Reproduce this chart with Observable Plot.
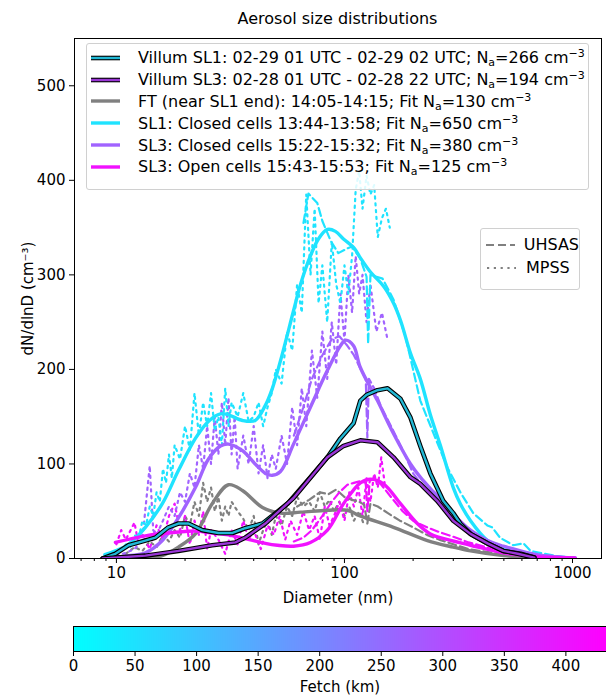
<!DOCTYPE html>
<html><head><meta charset="utf-8">
<script src="https://cdn.jsdelivr.net/npm/d3@7"></script>
<script src="https://cdn.jsdelivr.net/npm/@observablehq/plot@0.6"></script>
<style>
body{margin:0;width:606px;height:698px;overflow:hidden;font-family:"DejaVu Sans",sans-serif;background:#fff;position:relative;color:#000}
#title{position:absolute;left:74px;width:527px;top:9px;text-align:center;font-size:16px;line-height:20px}
#main{position:absolute;left:0;top:30px}
#cbar{position:absolute;left:0;top:612px}
.leg{position:absolute;border:1px solid #d0d0d0;border-radius:3px;background:rgba(255,255,255,0.85);box-sizing:border-box;font-size:16px}
.row{display:flex;align-items:center;height:21.8px;white-space:nowrap}
.row svg{flex:none}
sub{font-size:11px;vertical-align:-3px;line-height:0}
sup{font-size:11px;vertical-align:6px;line-height:0}
</style></head><body>
<div id="title">Aerosol size distributions</div>
<div id="main"></div>
<div id="cbar"></div>
<div class="leg" id="leg1" style="left:86px;top:43px;width:503px;height:147px;padding-top:3px"></div>
<div class="leg" id="leg2" style="left:480px;top:228px;width:100px;height:62px;padding-top:4px"></div>
<script>
// ---------- Data (diameter nm, dN/dlnD cm^-3) ----------
// Fits
const sl1FitD = [8.9,9.9,11.3,13.4,15.9,18.7,22.2,25.3,28.6,31,35.7,40.6,45,48.3,52.4,59.8,64.2,70.9,76.9,84.2,91.3,99,109.6,117.4,130,148.4,164.2,176,194.8,215,238,263,300,322,357,424,497,592,700,882,1027];
const sl1FitV = [4,8,15,33,58,93,127,145,153,152,146,146,162,180,209,262,290,320,338,348,346,338,329,318,303,288,270,252,217,190,152,120,75,58,40,19,10,5,3,1,0.5];
const sl3cFitD = [8.9,11.3,13.4,15.9,18.7,22.2,25.3,28.6,31,35.7,40.6,45,48.3,52.4,59.8,70.9,84.2,96,101.1,109.6,117.4,139.5,164.2,194.8,215,238,263,300,357,424,497,592,700,824,1027];
const sl3cFitV = [0,3,6,19,43,75,105,119,121,114,100,90,88,92,121,160,199,225,231,225,202,167,132,100,86,74,63,47,30,19,13,8,4,2,0.5];
const ftFitD = [9.9,13.4,15.9,18.7,22.2,26.3,31,35.7,43.7,52.4,64.2,84.2,103,117,164,231,300,357,497,700,1000];
const ftFitV = [0,1,3,12,26,58,78,72,54,48,49,51,51,45,33,19,12,8,3,1,0.3];
const sl3oFitD = [9.9,13.4,18.7,22.2,26.3,31,36.7,45,50.8,59.8,70.9,84.2,99,117.4,130,148.4,176,208.6,238,263,357,497,700,882,1027];
const sl3oFitV = [17,24,28,29,27,25,21,16,14,13,17,30,58,80,84,79,58,37,26,22,14,6,2,1,0.5];
// Villum
const villum1D = [8.7,9.9,11.3,13.4,14.8,16.9,18.7,20.7,23.8,28,32.3,36.7,43.7,56.3,70.9,84.2,96,109.6,117.4,125,139.5,154.5,176,194.8,215,238,271,300,322,357,424,497,592,680];
const villum1V = [0,5,14,19,22,33,37,37,30,27,27,32,37,58,86,107,127,143,167,173,178,180,169,149,119,90,61,48,37,26,16,8,5,1];
const villum3D = [8.7,13.4,18.7,26.3,33.3,36.7,45,59.8,84.2,99,117.4,139.5,164.2,194.8,215,255,300,357,424,497,575,680];
const villum3V = [0,3,8,14,17,22,37,64,107,119,125,123,107,86,79,61,40,26,16,8,5,1];
// UHSAS (dashed)
const sl1UhD = [66.1,69.5,76,80,87,94,103,108,117,125,127,130,147,164,185,215,246,283,324,367,423,444,481,550,610,655,830,980];
const sl1UhV = [355,386,376,357,336,323,328,330,318,298,227,300,296,274,235,167,132,96,69,48,35,33,22,14,16,8,3,1];
const sl3cUhD = [60,66,72,80,88,95,103,110,118,124,126,128,135,145,160,180,200,225,250,280,320,360,420,480,550,630,700,800,950];
const sl3cUhV = [130,160,190,215,232,235,225,215,200,190,128,190,180,160,140,115,90,74,62,50,37,28,19,13,9,6,4,2,1];
const ftUhD = [62,70,78,85,92,100,108,116,122,126,130,140,155,175,200,230,260,300,350,420,500,600,750];
const ftUhV = [55,62,70,68,73,65,62,60,57,37,58,55,48,40,33,25,20,15,10,7,4,2,1];
const sl3oUhD = [60,66,72,80,88,95,103,110,118,124,126,129,135,145,160,180,200,230,260,300,350,420,500,600,750,950];
const sl3oUhV = [18,22,30,45,60,70,78,80,82,80,50,82,85,78,65,50,40,33,28,23,17,12,7,4,2,1];
// MPSS (dotted)
const sl1MpD = [10.5,11,11.5,12,12.5,13,13.5,14,14.5,15,15.5,16,16.5,17,17.5,18,19,20,21,22,23,24,25,26,27,28,29,30,31,32,34,36,38,40,42,44,46,48,50,53,56,59,62,65,68,71,74,77,80,84,88,92,96,100,104,108,112,116,120,125,130,135,140,146,152,158];
const sl1MpV = [8,15,12,25,20,40,35,55,45,70,60,95,80,110,85,120,105,140,115,175,130,165,140,175,135,150,120,180,140,165,150,175,145,150,165,140,160,175,200,185,240,220,290,260,385,300,370,270,310,250,335,290,270,310,280,320,390,410,370,405,385,395,340,360,370,350];
const sl3cMpD = [10,11,12,13,13.5,14,14.5,15,16,17,18,19,20,21,22,23,24,25,26,27,28,29,30,31,32,33,34,36,38,40,42,44,46,48,50,53,56,59,62,65,68,72,76,80,84,88,92,96,100,104,108,112,116,120,125,130,138,146,155];
const sl3cMpV = [3,6,10,20,60,98,30,25,40,55,45,70,60,90,75,120,95,140,100,150,110,165,120,170,110,150,95,130,100,140,90,120,85,110,95,130,100,160,120,180,140,220,170,240,190,250,205,280,230,300,260,320,280,300,250,290,240,260,230];
const ftMpD = [11,12,13,14,15,16,17,18,19,20,21,22,23,24,25,26,27,28,29,30,31,32,34,36,38,40,42,44,46,48,50,53,56,59,62,66,70,74,78,82,86,90,95,100,105,110,116,122];
const ftMpV = [5,12,8,18,12,25,18,30,22,45,35,60,45,80,60,75,50,65,40,55,45,60,50,42,30,45,15,30,40,25,45,35,55,45,65,55,60,50,70,55,62,50,60,45,55,40,50,35];
const sl3oMpD = [10,10.5,11,12,12.5,13,14,15,16,17,18,19,20,21,22,23,24,25,26,28,30,32,34,36,38,40,43,46,49,52,55,58,62,66,70,74,78,82,86,90,95,100,105,110,115,120,125,130,135,140,145,150];
const sl3oMpV = [15,30,20,38,15,25,10,35,20,45,58,30,45,15,40,25,50,10,30,20,5,30,15,40,20,30,10,35,25,45,20,40,25,50,30,45,20,55,35,45,60,40,70,55,75,45,85,60,90,75,107,80];
// Ticks & colorbar
const xMajorTicks = [10,100,1000];
const xMinorTicks = [7,8,9,20,30,40,50,60,70,80,90,200,300,400,500,600,700,800,900];
const yTicks = [0,100,200,300,400,500];
const fetchTicks = [0,50,100,150,200,250,300,350,400];
const fetchMax = 433;
// Colours
const cSL1 = "#1fe3ff", cSL3c = "#a163ff", cSL3o = "#f112ff", cFT = "#808080";
const cV1 = "#22b8d4", cV3 = "#9a36d6";

const rows = (d, v) => d.map((x, i) => ({D: x, v: v[i]}));
const fit = (d, v, c) => Plot.line(rows(d, v), {x: "D", y: "v", stroke: c, strokeWidth: 3.4, curve: "catmull-rom", clip: true});
const uh = (d, v, c) => Plot.line(rows(d, v), {x: "D", y: "v", stroke: c, strokeWidth: 2.2, strokeDasharray: "8,4", clip: true});
const mp = (d, v, c) => Plot.line(rows(d, v), {x: "D", y: "v", stroke: c, strokeWidth: 2.2, strokeDasharray: "2.2,4.6", clip: true});
const vil = (d, v, c) => [
  Plot.line(rows(d, v), {x: "D", y: "v", stroke: "black", strokeWidth: 4.6, clip: true}),
  Plot.line(rows(d, v), {x: "D", y: "v", stroke: c, strokeWidth: 2.4, clip: true})
];

const main = Plot.plot({
  width: 606, height: 582, marginTop: 8, marginBottom: 54, marginLeft: 74, marginRight: 5,
  style: {fontFamily: "DejaVu Sans, sans-serif", fontSize: "15px", color: "black", background: "white", overflow: "visible"},
  x: {type: "log", domain: [6.55, 1340]},
  y: {domain: [0, 550]},
  marks: [
    mp(ftMpD, ftMpV, cFT), mp(sl3oMpD, sl3oMpV, cSL3o), mp(sl3cMpD, sl3cMpV, cSL3c), mp(sl1MpD, sl1MpV, cSL1),
    uh(ftUhD, ftUhV, cFT), uh(sl3oUhD, sl3oUhV, cSL3o), uh(sl3cUhD, sl3cUhV, cSL3c), uh(sl1UhD, sl1UhV, cSL1),
    fit(ftFitD, ftFitV, cFT), fit(sl1FitD, sl1FitV, cSL1), fit(sl3cFitD, sl3cFitV, cSL3c), fit(sl3oFitD, sl3oFitV, cSL3o),
    ...vil(villum1D, villum1V, cV1), ...vil(villum3D, villum3V, cV3),
    Plot.axisX({ticks: xMinorTicks, tickSize: 3, tickFormat: () => "", label: null}),
    Plot.axisX({ticks: xMajorTicks, tickSize: 5, tickPadding: 4, tickFormat: d => String(d), label: "Diameter (nm)", labelAnchor: "center", labelArrow: "none", labelOffset: 44}),
    Plot.axisY({ticks: yTicks, tickSize: 5, tickPadding: 4, label: "dN/dlnD (cm⁻³)", labelAnchor: "center", labelArrow: "none", labelOffset: 52}),
    Plot.frame({stroke: "black", strokeWidth: 1})
  ]
});
document.getElementById("main").append(main);

const cb = Plot.plot({
  width: 606, height: 86, marginTop: 14, marginBottom: 47, marginLeft: 73, marginRight: 0,
  style: {fontFamily: "DejaVu Sans, sans-serif", fontSize: "15px", color: "black", background: "white"},
  x: {domain: [0, fetchMax]},
  y: {domain: [0, 1], axis: null},
  color: {type: "linear", domain: [0, fetchMax], range: ["#00ffff", "#ff00ff"], interpolate: "rgb"},
  marks: [
    Plot.raster({x1: 0, x2: fetchMax, y1: 0, y2: 1, width: 533, height: 1, fill: (x, y) => x, imageRendering: "auto"}),
    Plot.ruleY([0, 1], {stroke: "black", strokeWidth: 1}),
    Plot.ruleX([0], {stroke: "black", strokeWidth: 1}),
    Plot.axisX({ticks: fetchTicks, tickSize: 5, tickPadding: 4, label: "Fetch (km)", labelAnchor: "center", labelArrow: "none", labelOffset: 40})
  ]
});
document.getElementById("cbar").append(cb);

// Legends
const swatch = (c, dash, villum) => {
  const line = (s, w, d) => `<line x1="0" x2="29" y1="5" y2="5" stroke="${s}" stroke-width="${w}" ${d ? `stroke-dasharray="${d}"` : ""}/>`;
  return `<svg width="29" height="10">${villum ? line("black", 4.6) + line(c, 2.4) : line(c, dash ? 2.2 : 3.4, dash)}</svg>`;
};
const leg1Items = [
  [cV1, true, "Villum SL1: 02-29 01 UTC - 02-29 02 UTC; N<sub>a</sub>=266 cm<sup>−3</sup>"],
  [cV3, true, "Villum SL3: 02-28 01 UTC - 02-28 22 UTC; N<sub>a</sub>=194 cm<sup>−3</sup>"],
  [cFT, false, "FT (near SL1 end): 14:05-14:15; Fit N<sub>a</sub>=130 cm<sup>−3</sup>"],
  [cSL1, false, "SL1: Closed cells 13:44-13:58; Fit N<sub>a</sub>=650 cm<sup>−3</sup>"],
  [cSL3c, false, "SL3: Closed cells 15:22-15:32; Fit N<sub>a</sub>=380 cm<sup>−3</sup>"],
  [cSL3o, false, "SL3: Open cells 15:43-15:53; Fit N<sub>a</sub>=125 cm<sup>−3</sup>"]
];
document.getElementById("leg1").innerHTML = leg1Items.map(([c, v, t]) =>
  `<div class="row"><span style="width:4px"></span>${swatch(c, null, v)}<span style="width:18px"></span><span>${t}</span></div>`).join("");
const leg2Items = [["8,4", "UHSAS"], ["2.2,4.6", "MPSS"]];
document.getElementById("leg2").innerHTML = leg2Items.map(([d, t]) =>
  `<div class="row" style="height:23px"><span style="width:6px"></span>${swatch(cFT, d, false)}<span style="width:10px"></span><span>${t}</span></div>`).join("");
</script>
</body></html>
